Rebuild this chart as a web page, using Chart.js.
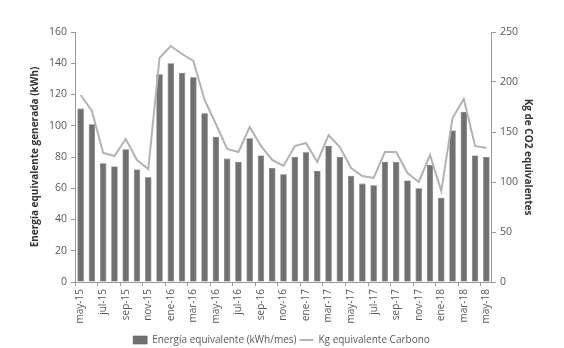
<!DOCTYPE html>
<html lang="es">
<head>
  <meta charset="UTF-8">
  <title>Energía equivalente y Kg CO2</title>
  <script src="https://cdn.jsdelivr.net/npm/chart.js"></script>
  <style>
    * { box-sizing: border-box; margin: 0; padding: 0; }
    body { background: #fff; width: 564px; height: 348px; overflow: hidden; }
  </style>
</head>
<body>
  <canvas id="chart" width="564" height="348"></canvas>

  <script>
    // meses may-15 .. may-18
    const months = [
      'may-15','jun-15','jul-15','ago-15','sep-15','oct-15','nov-15','dic-15',
      'ene-16','feb-16','mar-16','abr-16','may-16','jun-16','jul-16','ago-16',
      'sep-16','oct-16','nov-16','dic-16','ene-17','feb-17','mar-17','abr-17',
      'may-17','jun-17','jul-17','ago-17','sep-17','oct-17','nov-17','dic-17',
      'ene-18','feb-18','mar-18','abr-18','may-18'
    ];

    // energía equivalente (kWh/mes) - eje izquierdo
    const energia = [
      111, 101, 76, 74, 85, 72, 67, 133,
      140, 134, 131, 108, 93, 79, 77, 92,
      81, 73, 69, 80, 83, 71, 87, 80,
      68, 63, 62, 77, 77, 65, 60, 75,
      54, 97, 109, 81, 80
    ];

    // kg equivalente carbono - eje derecho
    const carbono = [
      187, 171, 129, 126, 143, 122, 113, 224,
      236, 228, 221, 182, 158, 133, 130, 155,
      136, 122, 116, 136, 139, 120, 147, 135,
      114, 106, 104, 130, 130, 109, 100, 127,
      91, 164, 183, 136, 134
    ];

    const leftTicks = [0, 20, 40, 60, 80, 100, 120, 140, 160];
    const rightTicks = [0, 50, 100, 150, 200, 250];

    const txt = '#595959';
    const axisCol = '#9a9a9a';
    const font = { family: 'Open Sans', size: 10.5 };

    const ctx = document.getElementById('chart').getContext('2d');
    new Chart(ctx, {
      data: {
        labels: months,
        datasets: [
          {
            type: 'line',
            label: 'Kg equivalente Carbono',
            data: carbono,
            yAxisID: 'y2',
            borderColor: '#b3b3b3',
            backgroundColor: '#b3b3b3',
            borderWidth: 2,
            pointRadius: 0,
            pointStyle: 'line',
            tension: 0,
            order: 0
          },
          {
            type: 'bar',
            label: 'Energía equivalente (kWh/mes)',
            data: energia,
            yAxisID: 'y',
            backgroundColor: '#717171',
            borderColor: '#5e5e5e',
            borderWidth: 0.6,
            barPercentage: 0.6,
            categoryPercentage: 0.95,
            pointStyle: 'rect',
            order: 1
          }
        ]
      },
      options: {
        responsive: false,
        animation: false,
        layout: { padding: { left: 29, right: 30, top: 32, bottom: -7 } },
        plugins: {
          tooltip: { enabled: false },
          legend: {
            position: 'bottom',
            reverse: true,
            labels: {
              usePointStyle: true,
              pointStyleWidth: 14,
              boxHeight: 8,
              color: txt,
              font: { family: 'Open Sans', size: 10 },
              padding: 3
            }
          }
        },
        scales: {
          x: {
            offset: true,
            border: { color: axisCol, width: 1 },
            grid: {
              drawOnChartArea: false,
              tickLength: 4,
              offset: true,
              color: c => (c.index % 2 === 0 ? axisCol : 'rgba(0,0,0,0)')
            },
            ticks: {
              autoSkip: false,
              maxRotation: 90,
              minRotation: 90,
              color: txt,
              font: { family: 'Open Sans', size: 10 },
              padding: 3,
              callback: (v, i) => (i % 2 === 0 ? months[i] : '')
            },
            afterFit: s => { s.height = 50; }
          },
          y: {
            position: 'left',
            min: 0,
            max: 160,
            afterBuildTicks: ax => { ax.ticks = leftTicks.map(v => ({ value: v })); },
            border: { color: axisCol, width: 1 },
            grid: { drawOnChartArea: false, tickLength: 4, color: axisCol },
            ticks: { color: txt, font, padding: 4 },
            title: {
              display: true,
              text: 'Energía equivalente generada (kWh)',
              color: '#333',
              font: { family: 'Open Sans', size: 10, weight: 'bold' },
              padding: { top: 0, bottom: 4 }
            }
          },
          y2: {
            position: 'right',
            min: 0,
            max: 250,
            afterBuildTicks: ax => { ax.ticks = rightTicks.map(v => ({ value: v })); },
            border: { color: axisCol, width: 1 },
            grid: { drawOnChartArea: false, tickLength: 4, color: axisCol },
            ticks: { color: txt, font, padding: 4 },
            title: {
              display: true,
              text: 'Kg de CO2 equivalentes',
              color: '#333',
              font: { family: 'Open Sans', size: 10, weight: 'bold' },
              padding: { top: 0, bottom: 0 }
            }
          }
        }
      }
    });
  </script>
</body>
</html>
